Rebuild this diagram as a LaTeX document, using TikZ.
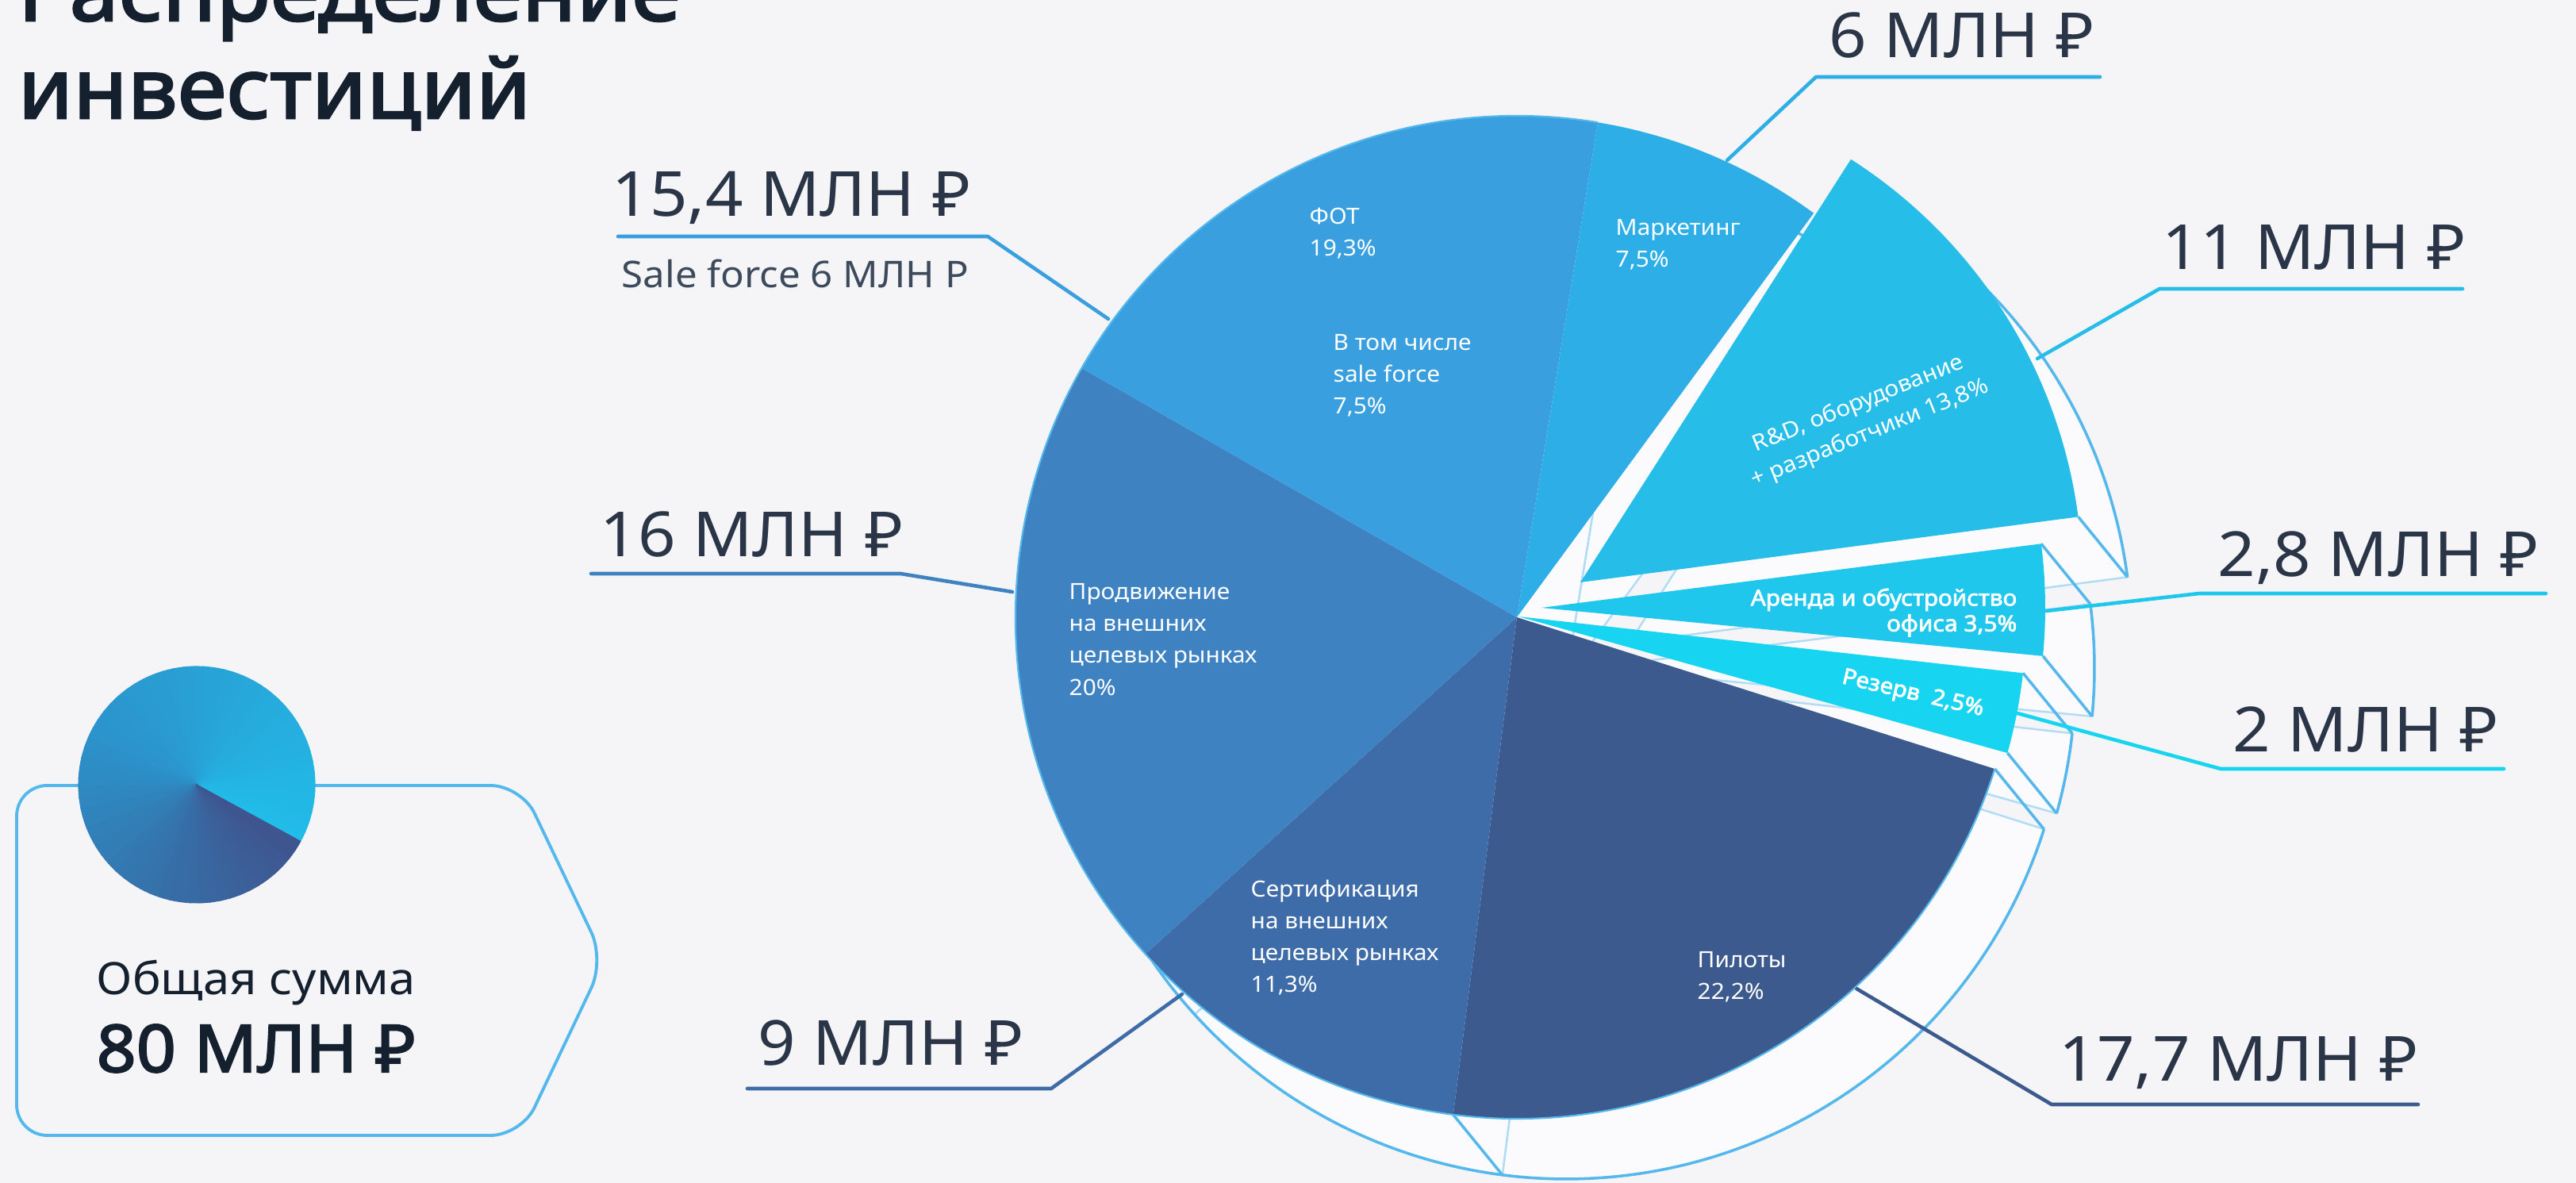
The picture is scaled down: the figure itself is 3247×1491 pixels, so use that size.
\documentclass[tikz,border=0pt]{standalone}
\usepackage{fontspec}
\setmainfont{Noto Sans}[FakeStretch=1.06]
\newfontfamily\heavyfont{Noto Sans}[FakeStretch=1.06, FakeBold=2.5]
\definecolor{pagebg}{RGB}{245,245,248}
\definecolor{inkdark}{RGB}{21,32,47}
\definecolor{inkval}{RGB}{42,53,71}
\definecolor{inksub}{RGB}{61,74,92}
\definecolor{fotblue}{RGB}{58,159,223}
\definecolor{mktblue}{RGB}{46,174,230}
\definecolor{rdblue}{RGB}{38,189,233}
\definecolor{arblue}{RGB}{31,199,236}
\definecolor{rzblue}{RGB}{23,212,241}
\definecolor{pilblue}{RGB}{61,90,142}
\definecolor{certblue}{RGB}{61,108,168}
\definecolor{promblue}{RGB}{62,130,194}
\definecolor{rimblue}{RGB}{85,184,236}
\definecolor{paleblue}{RGB}{176,220,245}
\definecolor{copyfill}{RGB}{251,251,253}
\tikzset{
  slicetext/.style={text=white, inner sep=0pt, anchor=north west, align=left, font=\fontsize{8}{11.4}\selectfont},
  valtext/.style={text=inkval, inner sep=0pt, anchor=base west, font=\fontsize{22.3}{26}\selectfont},
  leader/.style={line width=1.3pt, line cap=round, line join=bevel},
  shadowface/.style={fill=copyfill, draw=paleblue, line width=0.7pt},
  rim/.style={draw=rimblue, line width=1pt, line join=round},
}

\begin{document}
\begin{tikzpicture}[x=0.01cm, y=0.01cm]
\clip (0,0) rectangle (3247,1491);
\fill[pagebg] (0,0) rectangle (3247,1491);

\coordinate (ctr) at (1912,713);
\coordinate (rd-v) at (1992,757);
\coordinate (ar-v) at (1943,725);
\coordinate (rz-v) at (1914,714);
\coordinate (ctr-s) at (1974,637);
\coordinate (rd-s) at (2054,681);
\coordinate (ar-s) at (2005,649);
\coordinate (rz-s) at (1976,638);

% sides of the slices
\filldraw[shadowface] (ctr-s) -- ++(262.7:632) arc[start angle=262.7, end angle=342.4, radius=632] -- cycle;
\filldraw[shadowface] (ctr-s) -- ++(222.2:632) arc[start angle=222.2, end angle=262.7, radius=632] -- cycle;
\filldraw[shadowface] (ctr-s) -- ++(150.2:632) arc[start angle=150.2, end angle=222.2, radius=632] -- cycle;
\filldraw[shadowface] (ctr-s) -- ++(80.7:632) arc[start angle=80.7, end angle=150.2, radius=632] -- cycle;
\filldraw[shadowface] (ctr-s) -- ++(53.7:632) arc[start angle=53.7, end angle=80.7, radius=632] -- cycle;
\filldraw[shadowface] (rd-s) -- ++(7.5:633) arc[start angle=7.5, end angle=57.4, radius=633] -- cycle;
\filldraw[shadowface] (ar-s) -- ++(-5.5:635) arc[start angle=-5.5, end angle=7.3, radius=635] -- cycle;
\filldraw[shadowface] (rz-s) -- ++(-15.6:640) arc[start angle=-15.6, end angle=-6.4, radius=640] -- cycle;

\draw[rim] (ctr-s) ++(53.7:632) arc[start angle=53.7, end angle=342.4, radius=632];
\draw[rim] (rd-s) ++(7.5:633) arc[start angle=7.5, end angle=57.4, radius=633];
\draw[rim] (ar-s) ++(-5.5:635) arc[start angle=-5.5, end angle=7.3, radius=635];
\draw[rim] (rz-s) ++(-15.6:640) arc[start angle=-15.6, end angle=-6.4, radius=640];
\draw[rim] (ctr) ++(342.4:632) -- ++(62,-76);
\draw[rim] (ctr) ++(262.7:632) -- ++(62,-76);
\draw[rim] (rz-v) ++(-15.6:640) -- ++(62,-76);
\draw[rim] (rz-v) ++(-6.4:640) -- ++(62,-76);
\draw[rim] (ar-v) ++(-5.5:635) -- ++(62,-76);
\draw[rim] (ar-v) ++(7.3:635) -- ++(62,-76);
\draw[rim] (rd-v) ++(7.5:633) -- ++(62,-76);

% leader lines
\coordinate (fot-a) at (779,1193);
\coordinate (fot-b) at (1245,1193);
\coordinate (fot-c) at (1397,1089);
\coordinate (mkt-a) at (2647,1394);
\coordinate (mkt-b) at (2289,1394);
\coordinate (mkt-c) at (2177,1289);
\coordinate (rd-a) at (3104,1127);
\coordinate (rd-b) at (2722,1127);
\coordinate (rd-c) at (2568,1039);
\coordinate (ar-a) at (3209,743);
\coordinate (ar-b) at (2772,743);
\coordinate (ar-c) at (2579,721);
\coordinate (rz-a) at (3156,522);
\coordinate (rz-b) at (2799,522);
\coordinate (rz-c) at (2543,592);
\coordinate (pil-a) at (3048,99);
\coordinate (pil-b) at (2586,99);
\coordinate (pil-c) at (2340,245);
\coordinate (cert-a) at (942,119);
\coordinate (cert-b) at (1325,119);
\coordinate (cert-c) at (1490,238);
\coordinate (prom-a) at (745,768);
\coordinate (prom-b) at (1135,768);
\coordinate (prom-c) at (1276,745);
\draw[leader, fotblue] (fot-a) -- (fot-b) -- (fot-c);
\draw[leader, mktblue] (mkt-a) -- (mkt-b) -- (mkt-c);
\draw[leader, rdblue] (rd-a) -- (rd-b) -- (rd-c);
\draw[leader, arblue] (ar-a) -- (ar-b) -- (ar-c);
\draw[leader, rzblue] (rz-a) -- (rz-b) -- (rz-c);
\draw[leader, pilblue] (pil-a) -- (pil-b) -- (pil-c);
\draw[leader, certblue] (cert-a) -- (cert-b) -- (cert-c);
\draw[leader, promblue] (prom-a) -- (prom-b) -- (prom-c);

% slices
\fill[pilblue] (ctr) -- ++(262.7:632) arc[start angle=262.7, end angle=342.4, radius=632] -- cycle;
\fill[certblue] (ctr) -- ++(222.2:632) arc[start angle=222.2, end angle=262.7, radius=632] -- cycle;
\fill[promblue] (ctr) -- ++(150.2:632) arc[start angle=150.2, end angle=222.2, radius=632] -- cycle;
\fill[fotblue] (ctr) -- ++(80.7:632) arc[start angle=80.7, end angle=150.2, radius=632] -- cycle;
\fill[mktblue] (ctr) -- ++(53.7:632) arc[start angle=53.7, end angle=80.7, radius=632] -- cycle;
\fill[rdblue] (rd-v) -- ++(7.5:633) arc[start angle=7.5, end angle=57.4, radius=633] -- cycle;
\fill[arblue] (ar-v) -- ++(-5.5:635) arc[start angle=-5.5, end angle=7.3, radius=635] -- cycle;
\fill[rzblue] (rz-v) -- ++(-15.6:640) arc[start angle=-15.6, end angle=-6.4, radius=640] -- cycle;
\draw[rimblue, line width=0.6pt] (ctr) ++(80.7:632) arc[start angle=80.7, end angle=342.4, radius=632];

% texts in the slices
\node[slicetext] (fot-txt) at (1650,1230) {ФОТ\\19,3\%};
\node[slicetext] (sf-txt) at (1680,1070) {В том числе\\sale force\\7,5\%};
\node[slicetext] (mkt-txt) at (2036,1215) {Маркетинг\\7,5\%};
\node[slicetext] (prom-txt) at (1347,756) {Продвижение\\на внешних\\целевых рынках\\20\%};
\node[slicetext] (cert-txt) at (1576,383) {Сертификация\\на внешних\\целевых рынках\\11,3\%};
\node[slicetext] (pil-txt) at (2139,292) {Пилоты\\22,2\%};
\node[text=white, inner sep=0pt, align=center, rotate=22, font=\fontsize{8}{11.4}\selectfont] (rd-txt) at (2350,963) {R\&D, оборудование\\+ разработчики 13,8\%};
\node[text=white, inner sep=0pt, align=right, anchor=north east, font=\heavyfont\fontsize{8}{9.2}\selectfont] (ar-txt) at (2543,750) {Аренда и обустройство\\офиса 3,5\%};
\node[text=white, inner sep=0pt, rotate=-13, font=\heavyfont\fontsize{8}{9.2}\selectfont] (rz-txt) at (2411,616) {Резерв\ \ 2,5\%};

% values
\node[valtext] (fot-val) at (771,1218) {15,4 МЛН ₽};
\node[text=inksub, inner sep=0pt, anchor=base west, font=\fontsize{13.2}{16}\selectfont] (sf-val) at (783,1128) {Sale force 6 МЛН Р};
\node[valtext] (mkt-val) at (2305,1418) {6 МЛН ₽};
\node[valtext] (rd-val) at (2725,1151) {11 МЛН ₽};
\node[valtext] (ar-val) at (2795,764) {2,8 МЛН ₽};
\node[valtext] (rz-val) at (2814,543) {2 МЛН ₽};
\node[valtext] (pil-val) at (2595,128) {17,7 МЛН ₽};
\node[valtext] (cert-val) at (955,148) {9 МЛН ₽};
\node[valtext] (prom-val) at (756,789) {16 МЛН ₽};

% title
\node[text=inkdark, inner sep=0pt, anchor=base west, font=\heavyfont\fontsize{30}{35}\selectfont] (title-a) at (22,1465) {Распределение};
\node[text=inkdark, inner sep=0pt, anchor=base west, font=\heavyfont\fontsize{30}{35}\selectfont] (title-b) at (22,1342) {инвестиций};

% total box
\draw[rimblue, line width=1.1pt, rounded corners=11pt] (21,501) -- (657,501) -- (762,281) -- (657,60) -- (21,60) -- cycle;
\coordinate (minipie) at (248,502);
\foreach \i in {0,...,71}{
  \pgfmathsetmacro{\f}{\i/71}
  \pgfmathtruncatemacro{\colR}{\f<0.5 ? 34+20*\f : 44+38*(\f-0.5)}
  \pgfmathtruncatemacro{\colG}{\f<0.5 ? 188-80*\f : 148-126*(\f-0.5)}
  \pgfmathtruncatemacro{\colB}{\f<0.5 ? 233-58*\f : 204-122*(\f-0.5)}
  \pgfmathsetmacro{\sa}{-28.6+5*\i}
  \pgfmathsetmacro{\ea}{min(\sa+5.4,331.4)}
  \definecolor{wedgecol}{RGB}{\colR,\colG,\colB}
  \filldraw[fill=wedgecol, draw=wedgecol, line width=0.3pt, line join=round] (minipie) -- ++(\sa:149) arc[start angle=\sa, end angle=\ea, radius=149] -- cycle;
}
\node[text=inkdark, inner sep=0pt, anchor=base west, font=\fontsize{16}{19}\selectfont] (total-lbl) at (121,237) {Общая сумма};
\node[text=inkdark, inner sep=0pt, anchor=base west, font=\heavyfont\fontsize{23.5}{27}\selectfont] (total-val) at (121,140) {80 МЛН ₽};
\end{tikzpicture}
\end{document}
